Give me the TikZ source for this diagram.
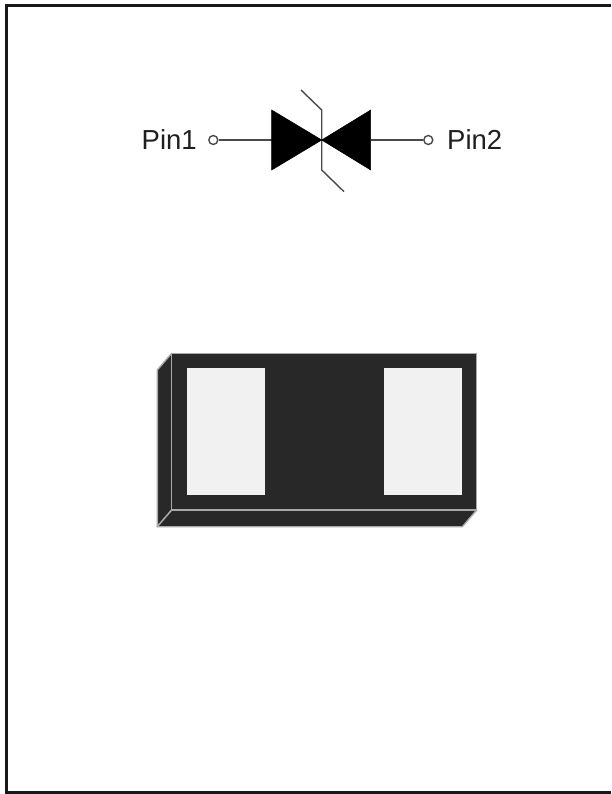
\documentclass[tikz,border=0pt]{standalone}
\usepackage{fontspec}
\setmainfont{Liberation Sans}
\definecolor{chipfill}{HTML}{282828}
\definecolor{chipedge}{HTML}{A8A8A8}
\definecolor{padfill}{HTML}{F1F1F1}
\definecolor{wire}{HTML}{4A4A4A}
\tikzset{
  chipface/.style={fill=chipfill,draw=chipedge,line width=1.4pt,line join=round},
  padbox/.style={fill=padfill,draw=none},
  diode/.style={fill=black,draw=black,line width=0.5pt,line join=miter},
  wireline/.style={draw=wire,line width=1.4pt},
  pinmark/.style={circle,draw=wire,fill=white,line width=1.4pt,minimum size=9pt,inner sep=0pt},
  pinlabel/.style={font=\fontsize{27.5}{31}\selectfont,text=black!88,inner sep=0pt}
}
\begin{document}
\begin{tikzpicture}[x=1pt,y=-1pt]
\useasboundingbox (0,0) rectangle (611,794);
\fill[white] (0,0) rectangle (611,794);
% frame
\draw[black!90,line width=3.4pt,line cap=butt] (6.2,794) -- (6.2,5.5) -- (611,5.5);
\draw[black!90,line width=3.4pt] (6.2,792.3) -- (611,792.3);
% symbol
\coordinate (apex) at (321.7,140);
\coordinate (vtop) at (321.7,110);
\coordinate (vbot) at (321.7,170);
\coordinate (tailtop) at (301,90);
\coordinate (tailbot) at (344,191.7);
\node[pinmark] (p1) at (213.3,140) {};
\node[pinmark] (p2) at (428.3,140) {};
\coordinate (l) at (271.7,140);
\coordinate (r) at (370.7,140);
\draw[wireline] (p1) -- (l);
\draw[wireline] (p2) -- (r);
\draw[wireline] (tailtop) -- (vtop) -- (vbot) -- (tailbot);
\fill[diode] (271.7,110) -- (apex) -- (271.7,170) -- cycle;
\fill[diode] (370.7,110) -- (apex) -- (370.7,170) -- cycle;
\node[pinlabel,anchor=base west] (t1) at (141.5,150) {Pin1};
\node[pinlabel,anchor=base west] (t2) at (447,150) {Pin2};
% chip
\path[chipface] (157.3,370) -- (171.7,353.3) -- (171.7,510) -- (157.3,526.7) -- cycle;
\path[chipface] (157.3,526.7) -- (171.7,510) -- (476.7,510) -- (462.3,526.7) -- cycle;
\path[chipface] (171.7,353.3) rectangle (476.7,510);
\fill[padbox] (186.7,368.3) rectangle (265,495);
\fill[padbox] (383.7,368.3) rectangle (461.7,495);
\end{tikzpicture}
\end{document}
